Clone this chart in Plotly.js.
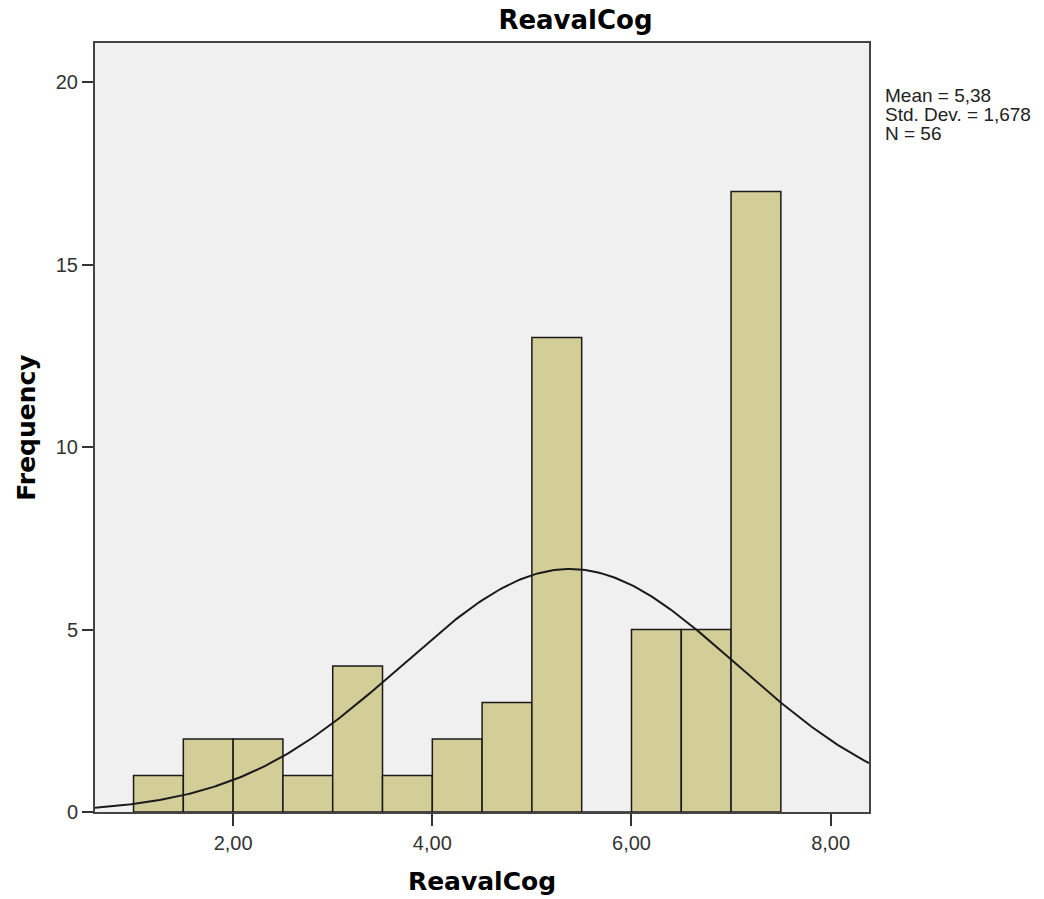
<!DOCTYPE html>
<html>
<head>
<meta charset="utf-8">
<script src="https://cdn.plot.ly/plotly-3.0.1.min.js"></script>
<style>html,body{margin:0;padding:0;background:#fff;}#chart{width:1044px;height:899px;}</style>
</head>
<body>
<div id="chart"></div>
<script>
// Histogram bins (lower edges), bin width and frequencies
const binStarts = [1.0, 1.5, 2.0, 2.5, 3.0, 3.5, 4.0, 4.5, 5.0, 5.5, 6.0, 6.5, 7.0];
const binWidth = 0.5;
const frequencies = [1, 2, 2, 1, 4, 1, 2, 3, 13, 0, 5, 5, 17];
const xTickVals = [2, 4, 6, 8];
const xTickText = ["2,00", "4,00", "6,00", "8,00"];
const yTickVals = [0, 5, 10, 15, 20];
const statsLines = ["Mean = 5,38", "Std. Dev. = 1,678", "N = 56"];
const mean = 5.38, sd = 1.678, n = 56;

const centers = binStarts.map(s => s + binWidth / 2);
// Fitted normal curve, as drawn by SPSS from the reported mean / SD / N
const xMin = 0.613, xMax = 8.385;
const cx = [], cy = [];
for (let i = 0; i <= 300; i++) {
  const x = xMin + (xMax - xMin) * i / 300;
  cx.push(x);
  cy.push(n * binWidth * Math.exp(-0.5 * Math.pow((x - mean) / sd, 2)) / (sd * Math.sqrt(2 * Math.PI)));
}

const font = "Arial, 'Liberation Sans', sans-serif";
const boldFont = "'DejaVu Sans', sans-serif";
const data = [
  {type: 'bar', x: centers, y: frequencies, width: binWidth,
   marker: {color: '#d3ce97', line: {color: '#1a1a1a', width: 1.5}}, hoverinfo: 'x+y'},
  {type: 'scatter', mode: 'lines', x: cx, y: cy, line: {color: '#1a1a1a', width: 2}, hoverinfo: 'skip'}
];
// stats box lines, one annotation each for tight line spacing
const lineYpx = [95.5, 114.5, 133.5];
const annotations = statsLines.map((t, i) => ({
  xref: 'paper', yref: 'paper', x: (883 - 95) / (869 - 95), y: (812 - lineYpx[i]) / (812 - 43),
  xanchor: 'left', yanchor: 'middle', align: 'left', showarrow: false, text: t,
  font: {family: font, size: 19, color: '#222222'}
}));
const layout = {
  width: 1044, height: 899,
  margin: {l: 95, r: 175, t: 43, b: 87},
  paper_bgcolor: '#ffffff', plot_bgcolor: '#f0f0f0',
  showlegend: false, bargap: 0,
  font: {family: font, color: '#333333', size: 20},
  title: {text: '<b>ReavalCog</b>', x: 575.5 / 1044, xanchor: 'center', y: 0.978, yanchor: 'middle',
          font: {family: boldFont, size: 26, color: '#000000'}},
  xaxis: {range: [xMin, xMax], tickvals: xTickVals, ticktext: xTickText, ticks: 'outside', ticklen: 12,
          tickcolor: '#333333', tickwidth: 2, showgrid: false, zeroline: false, showline: true,
          linecolor: '#444444', linewidth: 2, mirror: true,
          tickfont: {family: font, size: 20, color: '#333333'},
          title: {text: '<b>ReavalCog</b>', standoff: 19, font: {family: boldFont, size: 25, color: '#000000'}}},
  yaxis: {range: [0, 21.07], tickvals: yTickVals, ticks: 'outside', ticklen: 11,
          tickcolor: '#333333', tickwidth: 2, showgrid: false, zeroline: false, showline: true,
          linecolor: '#444444', linewidth: 2, mirror: true,
          tickfont: {family: font, size: 20, color: '#333333'},
          title: {text: '<b>Frequency</b>', standoff: 13, font: {family: boldFont, size: 25, color: '#000000'}}},
  annotations: annotations
};
Plotly.newPlot('chart', data, layout, {displayModeBar: false, staticPlot: true});
</script>
</body>
</html>
